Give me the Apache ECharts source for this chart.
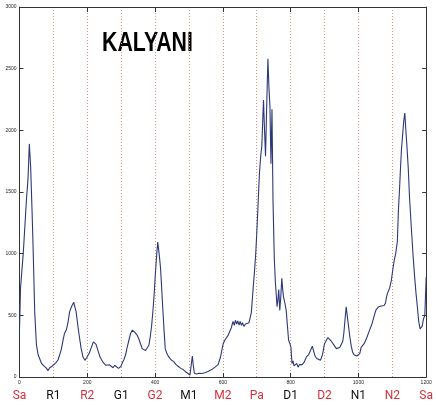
<!DOCTYPE html>
<html>
<head>
<meta charset="utf-8">
<script src="https://cdn.jsdelivr.net/npm/echarts@6/dist/echarts.min.js"></script>
<style>
html,body{margin:0;padding:0;background:#fff;}
#chart{width:436px;height:406px;}
</style>
</head>
<body>
<div id="chart"></div>
<script>
var chartTitle = 'KALYANI';
var swaraNames = ['Sa','R1','R2','G1','G2','M1','M2','Pa','D1','D2','N1','N2','Sa'];
var redSwaraIdx = [0,2,4,6,7,9,11,12];
var xTickValues = [0,200,400,600,800,1000,1200];
var yTickValues = [0,500,1000,1500,2000,2500,3000];

var pitchX = [0,3,11,21,25,29,33,37,40,45,50,55,65,72,80,84,89,95,100,107,114,123,130,133,138,143,148,155,160,163,167,172,177,182,187,193,199,206,212,218,222,226,232,238,245,250,255,260,265,270,276,281,286,292,299,304,308,313,318,323,328,333,336,341,347,352,357,362,367,372,377,382,386,390,394,398,401,405,408,412,416,420,423,427,430,435,440,447,455,462,469,476,483,489,496,503,507,510,513,516,522,530,538,547,556,567,577,586,593,601,606,611,616,620,625,630,634,637,641,644,648,651,655,658,662,667,672,677,684,690,693,697,700,704,708,712,715,718,720,723,726,729,733,736,739,742,745,748,752,755,758,760,763,765,768,771,774,777,779,783,787,791,794,798,801,804,807,810,814,818,822,826,830,834,840,847,853,858,864,868,872,877,882,888,894,900,906,910,915,920,925,930,935,940,945,950,954,957,961,964,967,971,975,979,983,987,991,995,1000,1004,1008,1013,1018,1025,1033,1040,1047,1052,1056,1060,1064,1068,1072,1076,1080,1083,1086,1089,1092,1097,1102,1106,1110,1115,1118,1121,1124,1127,1131,1134,1137,1140,1143,1147,1151,1156,1161,1166,1170,1174,1178,1182,1185,1188,1192,1196,1199,1200];
var pitchCount = [380,720,1000,1460,1600,1890,1700,1350,1060,520,260,180,110,90,70,50,75,85,100,115,140,220,320,355,380,440,530,580,605,590,530,420,320,230,165,135,160,195,240,285,280,265,210,160,125,110,95,110,100,85,75,95,80,70,85,120,140,180,245,300,355,380,380,360,340,310,270,230,215,215,220,260,330,420,545,700,840,1000,1095,1000,890,700,545,360,230,190,165,140,125,100,85,70,60,45,30,15,30,170,90,30,25,30,28,35,45,60,80,100,160,270,300,315,340,355,400,450,420,460,430,455,420,450,420,440,410,430,420,440,520,740,840,1000,1160,1400,1650,1800,1870,2100,2245,2000,1790,2150,2580,2350,2190,1730,2170,1430,950,770,650,570,640,710,540,650,800,700,650,600,540,400,300,270,240,110,130,90,85,110,80,100,110,100,120,165,180,210,250,210,170,150,140,135,180,270,300,320,330,290,275,250,230,220,240,235,290,355,480,570,500,410,320,250,200,180,190,170,185,190,240,250,275,320,380,430,500,545,560,570,555,575,560,580,600,650,680,670,720,780,880,950,1000,1100,1350,1500,1680,1840,1980,2080,2140,2000,1880,1700,1450,1220,1000,810,680,570,450,390,380,410,470,500,500,810];

var seriesData = pitchX.map(function(x, i){ return [x, pitchCount[i]]; });

var chart = echarts.init(document.getElementById('chart'), null, {renderer:'canvas'});
var axisColor = '#333';
var tinyLabel = {fontSize:5, color:'#222', fontFamily:'Liberation Sans, Arial, sans-serif'};
var labelFont = 'Roboto, "Liberation Sans", sans-serif';
var option = {
  animation:false,
  backgroundColor:'#ffffff',
  grid:{left:19.5, right:6, top:7, bottom:29},
  graphic:[{
    type:'text', x:102, y:30, scaleX:0.79, scaleY:1,
    style:{text:chartTitle, fill:'#000', fontSize:27, fontWeight:'bold', fontFamily:'"Liberation Sans", Arial, sans-serif', verticalAlign:'top', align:'left'}
  }],
  xAxis:[
    {
      type:'value', min:0, max:1200, interval:200, position:'bottom',
      axisLine:{show:true, onZero:false, lineStyle:{color:axisColor, width:1}},
      axisTick:{show:true, inside:true, length:4, lineStyle:{color:axisColor}},
      axisLabel:Object.assign({margin:3, formatter:function(v){ return xTickValues.indexOf(v)>=0 ? String(v) : ''; }}, tinyLabel),
      splitLine:{show:false}
    },
    {
      type:'value', min:0, max:1200, interval:100, position:'bottom', offset:0,
      axisLine:{show:false}, axisTick:{show:false},
      axisLabel:{
        margin:13,
        formatter:function(v){
          var i = Math.round(v/100);
          var key = redSwaraIdx.indexOf(i)>=0 ? 'r' : 'k';
          return '{' + key + '|' + swaraNames[i] + '}';
        },
        rich:{
          r:{color:'#d2303c', fontSize:12, fontFamily:labelFont},
          k:{color:'#111', fontSize:12, fontFamily:labelFont}
        }
      },
      splitLine:{show:true, lineStyle:{color:'#d49a82', type:[1,2], width:1}}
    },
    {
      type:'value', min:0, max:1200, interval:200, position:'top',
      axisLine:{show:true, onZero:false, lineStyle:{color:axisColor, width:1}},
      axisTick:{show:true, inside:true, length:5, lineStyle:{color:axisColor}},
      axisLabel:{show:false}, splitLine:{show:false}
    }
  ],
  yAxis:[
    {
      type:'value', min:0, max:3000, interval:500, position:'left',
      axisLine:{show:true, onZero:false, lineStyle:{color:axisColor, width:1}},
      axisTick:{show:true, inside:true, length:4, lineStyle:{color:axisColor}},
      axisLabel:Object.assign({margin:3, formatter:function(v){ return yTickValues.indexOf(v)>=0 ? String(v) : ''; }}, tinyLabel),
      splitLine:{show:false}
    },
    {
      type:'value', min:0, max:3000, interval:500, position:'right',
      axisLine:{show:true, onZero:false, lineStyle:{color:axisColor, width:1}},
      axisTick:{show:true, inside:true, length:4, lineStyle:{color:axisColor}},
      axisLabel:{show:false}, splitLine:{show:false}
    }
  ],
  series:[{
    type:'line', xAxisIndex:0, yAxisIndex:0,
    data:seriesData, showSymbol:false, symbol:'none',
    lineStyle:{color:'#2c3878', width:1.1},
    silent:true
  }]
};
chart.setOption(option);
</script>
</body>
</html>
